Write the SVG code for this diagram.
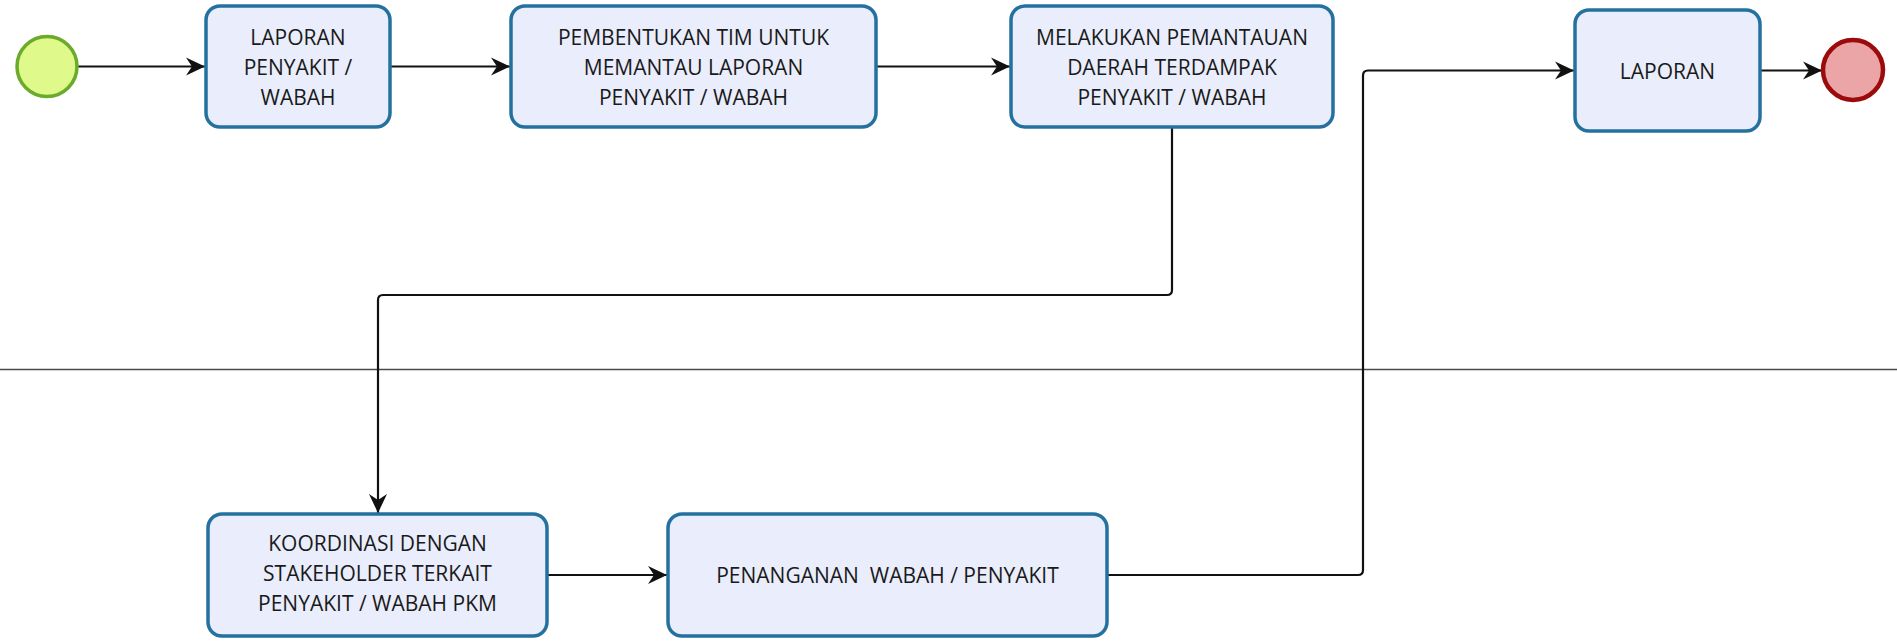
<svg xmlns="http://www.w3.org/2000/svg" width="1897" height="643" viewBox="0 0 1897 643">
<style>
.task{fill:#e9edfc;stroke:#24719f;stroke-width:3.5}
.lbl{font-family:"Open Sans","Liberation Sans",sans-serif;font-size:21px;fill:#1a1a1a;text-anchor:middle;dominant-baseline:central;white-space:pre}
.flow{fill:none;stroke:#111;stroke-width:2.2;marker-end:url(#arr)}
</style>
<defs>
<marker id="arr" viewBox="-20 -10 21 20" refX="0" refY="0" markerWidth="21" markerHeight="20" markerUnits="userSpaceOnUse" orient="auto">
<path d="M0,0 L-19,-9 L-13,0 L-19,9 Z" fill="#111"/>
</marker>
</defs>
<rect width="1897" height="643" fill="#fff"/>
<line x1="0" y1="369.5" x2="1897" y2="369.5" stroke="#4a4a4a" stroke-width="1.5"/>
<g id="connectors">
<path class="flow" d="M77,66.5 H205"/>
<path class="flow" d="M390,66.5 H510"/>
<path class="flow" d="M876,66.5 H1010"/>
<path class="flow" d="M1172,128 V290 Q1172,295 1167,295 H383 Q378,295 378,300 V513"/>
<path class="flow" d="M547,575 H667"/>
<path class="flow" d="M1107,575 H1358 Q1363,575 1363,570 V75.5 Q1363,70.5 1368,70.5 H1574"/>
<path class="flow" d="M1760,70.5 H1822"/>
</g>
<g id="start">
<circle cx="47" cy="66.5" r="30" fill="#e0f98b" stroke="#6aab2b" stroke-width="3.5"/>
</g>
<g id="task1">
<rect class="task" x="206" y="6" width="184" height="121" rx="14"/>
<text class="lbl" x="298" y="36.5">LAPORAN</text>
<text class="lbl" x="298" y="66.5">PENYAKIT /</text>
<text class="lbl" x="298" y="96.5">WABAH</text>
</g>
<g id="task2">
<rect class="task" x="511" y="6" width="365" height="121" rx="14"/>
<text class="lbl" x="693.5" y="36.5">PEMBENTUKAN TIM UNTUK</text>
<text class="lbl" x="693.5" y="66.5">MEMANTAU LAPORAN</text>
<text class="lbl" x="693.5" y="96.5">PENYAKIT / WABAH</text>
</g>
<g id="task3">
<rect class="task" x="1011" y="6" width="322" height="121" rx="14"/>
<text class="lbl" x="1172" y="36.5">MELAKUKAN PEMANTAUAN</text>
<text class="lbl" x="1172" y="66.5">DAERAH TERDAMPAK</text>
<text class="lbl" x="1172" y="96.5">PENYAKIT / WABAH</text>
</g>
<g id="task4">
<rect class="task" x="1575" y="10" width="185" height="121" rx="14"/>
<text class="lbl" x="1667.5" y="70.5">LAPORAN</text>
</g>
<g id="end">
<circle cx="1853" cy="70" r="30" fill="#eca5a7" stroke="#9b0b0b" stroke-width="4.5"/>
</g>
<g id="task5">
<rect class="task" x="208" y="514" width="339" height="122" rx="14"/>
<text class="lbl" x="377.5" y="543">KOORDINASI DENGAN</text>
<text class="lbl" x="377.5" y="573">STAKEHOLDER TERKAIT</text>
<text class="lbl" x="377.5" y="603">PENYAKIT / WABAH PKM</text>
</g>
<g id="task6">
<rect class="task" x="668" y="514" width="439" height="122" rx="14"/>
<text class="lbl" x="887.5" y="575">PENANGANAN  WABAH / PENYAKIT</text>
</g>
</svg>
